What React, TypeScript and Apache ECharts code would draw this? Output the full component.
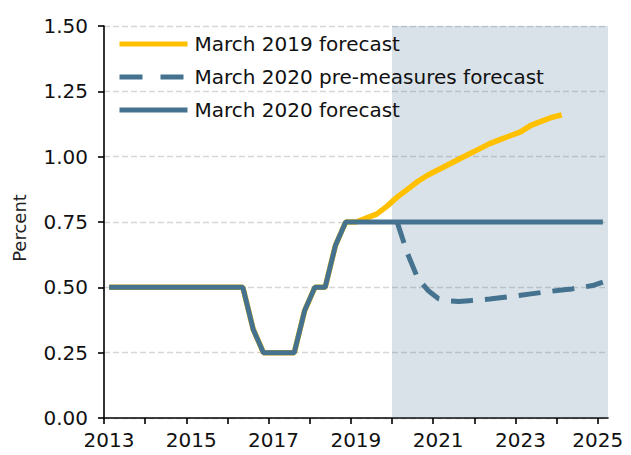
import React, { useEffect, useRef } from "react";
import * as echarts from "echarts";

// Quarter labels 2013Q1 .. 2025Q1
const quarters: string[] = [];
for (let y = 2013; y <= 2025; y++) {
  for (let q = 1; q <= 4; q++) {
    if (y === 2025 && q > 1) break;
    quarters.push(`${y}Q${q}`);
  }
}

// March 2020 forecast (Bank Rate, %), 2013Q1 .. 2025Q1
const march2020: number[] = [
  0.5, 0.5, 0.5, 0.5, 0.5, 0.5, 0.5, 0.5, 0.5, 0.5, 0.5, 0.5, 0.5, 0.5,
  0.34, 0.25, 0.25, 0.25, 0.25, 0.41, 0.5, 0.5, 0.66,
  0.75, 0.75, 0.75, 0.75, 0.75, 0.75, 0.75, 0.75, 0.75, 0.75, 0.75, 0.75, 0.75,
  0.75, 0.75, 0.75, 0.75, 0.75, 0.75, 0.75, 0.75, 0.75, 0.75, 0.75, 0.75, 0.75,
];

// March 2019 forecast, 2013Q1 .. 2024Q1
const march2019: number[] = [
  0.5, 0.5, 0.5, 0.5, 0.5, 0.5, 0.5, 0.5, 0.5, 0.5, 0.5, 0.5, 0.5, 0.5,
  0.34, 0.25, 0.25, 0.25, 0.25, 0.41, 0.5, 0.5, 0.66, 0.75,
  0.75, 0.765, 0.78, 0.81, 0.845, 0.875, 0.905, 0.93, 0.95, 0.97, 0.99, 1.01,
  1.03, 1.05, 1.065, 1.08, 1.095, 1.12, 1.135, 1.15, 1.16,
];

// March 2020 pre-measures forecast, 2020Q1 .. 2025Q1
const preMeasuresStart = "2020Q1";
const preMeasures: number[] = [
  0.75, 0.63, 0.535, 0.488, 0.457, 0.448, 0.446, 0.449, 0.452, 0.455, 0.46,
  0.465, 0.47, 0.475, 0.48, 0.485, 0.49, 0.494, 0.5, 0.507, 0.52,
];

const yTicks = [0, 0.25, 0.5, 0.75, 1.0, 1.25, 1.5];
const xTickYears = [2013, 2014, 2015, 2016, 2017, 2018, 2019, 2020, 2021, 2022, 2023, 2024, 2025];
const xLabelYears = [2013, 2015, 2017, 2019, 2021, 2023, 2025];
const forecastStart = 2020;

const names = [
  "March 2019 forecast",
  "March 2020 pre-measures forecast",
  "March 2020 forecast",
];

const YELLOW = "#FFC000";
const BLUE = "#44728F";
const FONT = "DejaVu Sans";

function qToYear(label: string): number {
  const y = parseInt(label.slice(0, 4), 10);
  const q = parseInt(label.slice(5), 10);
  return y + (q - 1) / 4 + 0.125;
}

function pairs(values: number[], startIdx: number): [number, number][] {
  return values.map((v, i) => [qToYear(quarters[startIdx + i]), v]);
}

export default function App() {
  const ref = useRef<HTMLDivElement>(null);
  useEffect(() => {
    if (!ref.current) return;
    const chart = echarts.init(ref.current, undefined, { renderer: "svg" });
    const preIdx = quarters.indexOf(preMeasuresStart);
    chart.setOption({
      animation: false,
      grid: { left: 104, right: 23, top: 26, bottom: 37 },
      legend: {
        orient: "vertical",
        left: 112,
        top: 29,
        itemWidth: 68,
        itemHeight: 14,
        itemGap: 13,
        itemStyle: { opacity: 0 },
        lineStyle: { width: 5 },
        textStyle: { fontFamily: FONT, fontSize: 20, color: "#111", lineHeight: 20, padding: [0, 0, 0, 2] },
        data: [
          { name: names[0], lineStyle: { width: 5, color: YELLOW } },
          { name: names[1], lineStyle: { width: 5, color: BLUE, type: [23, 18], cap: "butt" } },
          { name: names[2], lineStyle: { width: 5, color: BLUE } },
        ],
      },
      xAxis: {
        type: "value",
        min: 2013,
        max: 2025.25,
        interval: 1,
        splitLine: { show: false },
        axisLine: { show: true, onZero: false, lineStyle: { color: "#000", width: 1.6 } },
        axisTick: {
          show: true,
          length: 6,
          customValues: xTickYears,
          lineStyle: { color: "#000", width: 1.6 },
        },
        axisLabel: {
          customValues: xLabelYears,
          margin: 12,
          fontFamily: FONT,
          fontSize: 20,
          color: "#111",
          formatter: (v: number) => (v === 2025 ? `{e|${v}}` : `{n|${v}}`),
          rich: {
            n: { fontFamily: FONT, fontSize: 20, color: "#111", padding: [0, 0, 0, 10] },
            e: { fontFamily: FONT, fontSize: 20, color: "#111" },
          },
        },
      },
      yAxis: {
        type: "value",
        min: yTicks[0],
        max: yTicks[yTicks.length - 1],
        interval: 0.25,
        name: "Percent",
        nameLocation: "middle",
        nameGap: 76,
        nameTextStyle: { fontFamily: FONT, fontSize: 18, color: "#222", padding: [0, 12, 0, 0] },
        axisLine: { show: true, lineStyle: { color: "#000", width: 1.6 } },
        axisTick: { show: true, length: 6, lineStyle: { color: "#000", width: 1.6 } },
        axisLabel: {
          margin: 16,
          fontFamily: FONT,
          fontSize: 20,
          color: "#111",
          formatter: (v: number) => v.toFixed(2),
        },
        splitLine: {
          show: true,
          lineStyle: { color: "#D6D6D6", width: 1.3, type: [6, 3] },
        },
      },
      series: [
        {
          type: "line",
          name: "shade",
          data: [],
          z: 1,
          silent: true,
          markArea: {
            silent: true,
            itemStyle: { color: "rgba(68,113,143,0.205)" },
            data: [[{ xAxis: forecastStart, yAxis: 0 }, { xAxis: 2025.25, yAxis: 1.5 }]],
          },
        },
        {
          type: "line",
          name: names[0],
          data: pairs(march2019, 0),
          showSymbol: false,
          symbol: "none",
          z: 3,
          color: YELLOW,
          lineStyle: { color: YELLOW, width: 5.5 },
        },
        {
          type: "line",
          name: names[1],
          data: pairs(preMeasures, preIdx),
          showSymbol: false,
          symbol: "none",
          z: 4,
          color: BLUE,
          lineStyle: { color: BLUE, width: 5, type: [22, 12], cap: "butt" },
        },
        {
          type: "line",
          name: names[2],
          data: pairs(march2020, 0),
          showSymbol: false,
          symbol: "none",
          z: 5,
          color: BLUE,
          lineStyle: { color: BLUE, width: 5 },
        },
      ],
    });
    return () => chart.dispose();
  }, []);
  return (
    <div
      ref={ref}
      style={{ position: "fixed", left: 0, top: 0, width: 631, height: 455, background: "#fff" }}
    />
  );
}
